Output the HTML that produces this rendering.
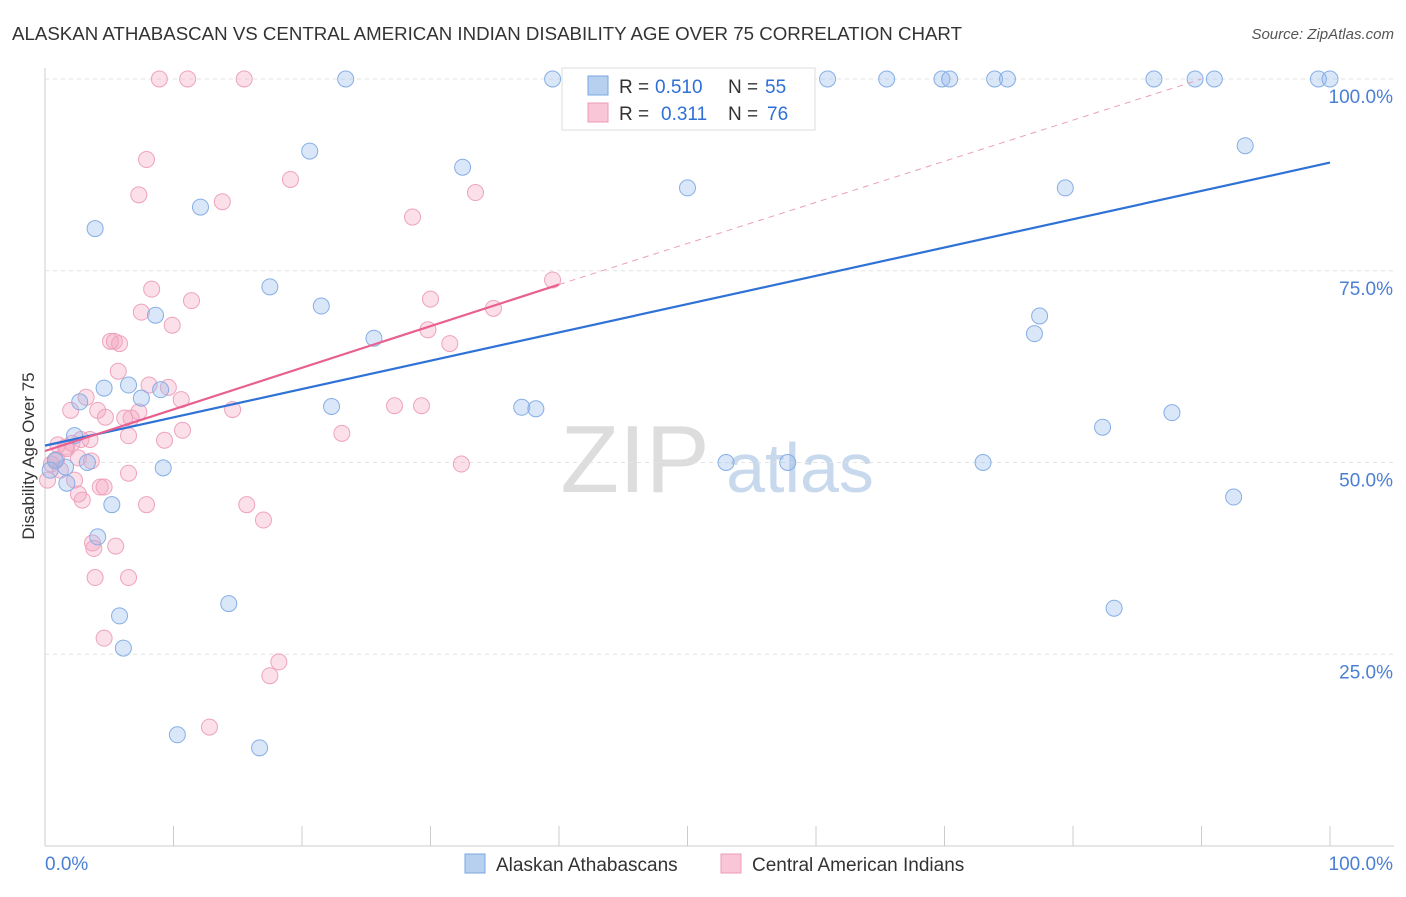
<!DOCTYPE html>
<html><head><meta charset="utf-8"><style>
body{margin:0;background:#fff;font-family:"Liberation Sans",sans-serif;}
svg text{font-family:"Liberation Sans",sans-serif;}
</style></head><body>
<svg id="c" width="1406" height="892">
<text x="12" y="40" font-size="18" fill="#333" textLength="950" lengthAdjust="spacingAndGlyphs">ALASKAN ATHABASCAN VS CENTRAL AMERICAN INDIAN DISABILITY AGE OVER 75 CORRELATION CHART</text>
<text x="1394" y="39" font-size="15" fill="#555" font-style="italic" text-anchor="end">Source: ZipAtlas.com</text>
<text x="34" y="456" font-size="17" fill="#333" text-anchor="middle" transform="rotate(-90 34 456)">Disability Age Over 75</text>
<text x="635" y="492" font-size="96" fill="#ddd" font-family="Liberation Serif" text-anchor="middle">ZIP</text>
<text x="800" y="492" font-size="70" fill="#c8d9ee" text-anchor="middle">atlas</text>
<g id="grid"></g><g id="pts"></g><g id="lines"></g>
<g>
<rect x="562" y="68" width="253" height="62" fill="#fff" stroke="#ddd"/>
<rect x="588" y="76" width="20" height="19" fill="#b7d0f0" stroke="#7aa6e0"/>
<rect x="588" y="103" width="20" height="19" fill="#f8c6d6" stroke="#ee9ab5"/>
<text x="619" y="93" font-size="19" fill="#333">R =</text>
<text x="655" y="93" font-size="19" fill="#2f6fd6">0.510</text>
<text x="728" y="93" font-size="19" fill="#333">N =</text>
<text x="765" y="93" font-size="19" fill="#2f6fd6">55</text>
<text x="619" y="120" font-size="19" fill="#333">R =</text>
<text x="661" y="120" font-size="19" fill="#2f6fd6">0.311</text>
<text x="728" y="120" font-size="19" fill="#333">N =</text>
<text x="767" y="120" font-size="19" fill="#2f6fd6">76</text>
</g>
<g>
<rect x="465" y="854" width="20" height="19" fill="#b7d0f0" stroke="#7aa6e0"/>
<text x="496" y="871" font-size="19" fill="#333">Alaskan Athabascans</text>
<rect x="721" y="854" width="20" height="19" fill="#f8c6d6" stroke="#ee9ab5"/>
<text x="752" y="871" font-size="19" fill="#333">Central American Indians</text>
</g>
</svg>
<script>
const bluePts=[[23.4,100],[39.5,100],[60.9,100],[65.5,100],[69.8,100],[70.4,100],[73.9,100],[74.9,100],[86.3,100],[89.5,100],[91,100],[99.1,100],[100,100],[93.4,91.3],[20.6,90.6],[32.5,88.5],[50,85.8],[79.4,85.8],[12.1,83.3],[3.9,80.5],[17.5,72.9],[21.5,70.4],[8.6,69.2],[77.4,69.1],[77,66.8],[25.6,66.2],[4.6,59.7],[6.5,60.1],[9,59.5],[7.5,58.4],[2.7,57.9],[22.3,57.3],[37.1,57.2],[38.2,57],[87.7,56.5],[82.3,54.6],[2.3,53.5],[3.3,50],[1.6,49.4],[9.2,49.3],[53,50],[57.8,50],[73,50],[1.7,47.3],[5.2,44.5],[92.5,45.5],[4.1,40.3],[14.3,31.6],[83.2,31],[5.8,30],[6.1,25.8],[10.3,14.5],[16.7,12.8],[0.8,50.3],[0.4,49]];
const pinkPts=[[8.9,100],[11.1,100],[15.5,100],[7.9,89.5],[7.3,84.9],[13.8,84],[19.1,86.9],[28.6,82],[33.5,85.2],[39.5,73.8],[8.3,72.6],[11.4,71.1],[7.5,69.6],[9.9,67.9],[30,71.3],[34.9,70.1],[29.8,67.3],[31.5,65.5],[5.1,65.8],[5.4,65.8],[5.8,65.5],[5.7,61.9],[8.1,60.1],[9.6,59.8],[10.6,58.2],[3.2,58.5],[2,56.8],[4.1,56.8],[4.7,55.9],[6.2,55.8],[7.3,56.6],[6.7,55.8],[14.6,56.9],[27.2,57.4],[29.3,57.4],[10.7,54.2],[6.5,53.5],[2.8,53],[3.5,53],[2.1,52.5],[1,52.3],[1.6,52],[1.7,51.8],[23.1,53.8],[9.3,52.9],[2.6,50.6],[3.6,50.2],[0.9,50.4],[0.5,49.8],[1.2,49],[6.5,48.6],[32.4,49.8],[2.3,47.7],[4.3,46.8],[4.6,46.8],[2.6,45.9],[2.9,45.1],[7.9,44.5],[15.7,44.5],[17,42.5],[3.7,39.5],[3.8,38.8],[5.5,39.1],[3.9,35],[6.5,35],[4.6,27.1],[18.2,24],[17.5,22.2],[12.8,15.5],[0.2,47.7],[0.8,50.2]];
const xTicks=[0,10,20,30,40,50,60,70,80,90,100];
const yTicks=[25,50,75,100];
const blueLine=[[0,52.2],[100,89.1]];
const pinkLine=[[0,51.5],[40,73.2]];
const pinkDash=[[40,73.2],[90,100]];
const X=v=>45+v*12.85, Y=v=>846-v*7.67;
const NS="http://www.w3.org/2000/svg";
function mk(t,a,p){const e=document.createElementNS(NS,t);for(const k in a)e.setAttribute(k,a[k]);p.appendChild(e);return e;}
const g=document.getElementById('grid');
let ax=mk('line',{x1:45,y1:846,x2:1394,y2:846,stroke:'#ccc'},g);


let ay=mk('line',{x1:45,y1:68,x2:45,y2:846,stroke:'#ccc'},g);


xTicks.forEach(t=>{const l=mk('line',{x1:X(t),y1:826,x2:X(t),y2:846,stroke:'#ccc'},g);

});
yTicks.forEach(t=>{const l=mk('line',{x1:45,y1:Y(t),x2:1394,y2:Y(t),stroke:'#e2e2e2','stroke-dasharray':'4,4'},g);


const tx=mk('text',{x:1393,y:Y(t)+24,'font-size':19,fill:'#4a7fd4','text-anchor':'end'},g);tx.textContent=t.toFixed(1)+'%';

});
[[45,'0.0%','start'],[1393,'100.0%','end']].forEach(([x,s,a])=>{const tx=mk('text',{x:x,y:870,'font-size':19,fill:'#4a7fd4','text-anchor':a},g);tx.textContent=s;

});
const p=document.getElementById('pts');
pinkPts.forEach(d=>{const c=mk('circle',{cx:X(d[0]),cy:Y(d[1]),r:8,fill:'rgba(244,164,192,0.35)',stroke:'#eea3bd','stroke-width':1},p);

});
bluePts.forEach(d=>{const c=mk('circle',{cx:X(d[0]),cy:Y(d[1]),r:8,fill:'rgba(150,185,235,0.35)',stroke:'#86aee6','stroke-width':1},p);

});
const L=document.getElementById('lines');
function ln(a,col,w,dash,name){const e=mk('line',{x1:X(a[0][0]),y1:Y(a[0][1]),x2:X(a[1][0]),y2:Y(a[1][1]),stroke:col,'stroke-width':w},L);if(dash)e.setAttribute('stroke-dasharray',dash);

}
ln(blueLine,'#2f72d6',2.2,null,'trend-alaskan');
ln(pinkLine,'#e8608f',2.2,null,'trend-central-american');
ln(pinkDash,'#eaa0b9',1,'6,5','trend-central-american-extension');
</script>
</body></html>
